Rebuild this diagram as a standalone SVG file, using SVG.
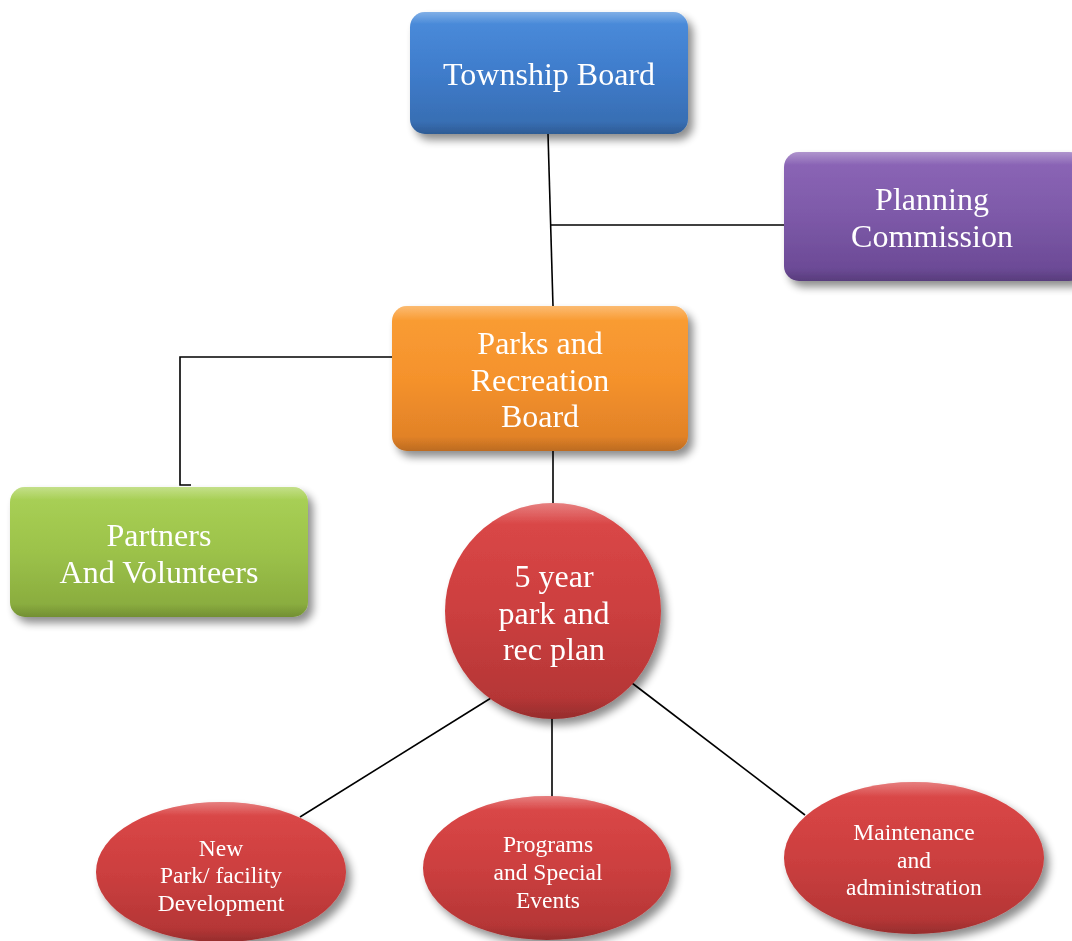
<svg xmlns="http://www.w3.org/2000/svg" width="1072" height="941" viewBox="0 0 1072 941">
<style>
.t{font-family:"Liberation Serif","Times New Roman",serif;fill:#fff;text-anchor:middle}
.big{font-size:32px}
.sm{font-size:23.5px}
.c{stroke:#000;stroke-width:1.6;fill:none}
.n{filter:url(#sh)}
</style>
<defs>
<filter id="sh" x="-20%" y="-20%" width="150%" height="150%">
<feGaussianBlur in="SourceAlpha" stdDeviation="4"/>
<feOffset dx="5" dy="6" result="b"/>
<feComponentTransfer><feFuncA type="linear" slope="0.45"/></feComponentTransfer>
<feMerge><feMergeNode/><feMergeNode in="SourceGraphic"/></feMerge>
</filter>
<linearGradient id="gB" x1="0" y1="0" x2="0" y2="1"><stop offset="0" stop-color="#4b8ddc"/><stop offset="0.5" stop-color="#3f7ccb"/><stop offset="1" stop-color="#366bae"/></linearGradient>
<linearGradient id="gP" x1="0" y1="0" x2="0" y2="1"><stop offset="0" stop-color="#8d67b8"/><stop offset="0.5" stop-color="#7d59a8"/><stop offset="1" stop-color="#684792"/></linearGradient>
<linearGradient id="gO" x1="0" y1="0" x2="0" y2="1"><stop offset="0" stop-color="#fa9e35"/><stop offset="0.5" stop-color="#f5922c"/><stop offset="1" stop-color="#dd7e26"/></linearGradient>
<linearGradient id="gG" x1="0" y1="0" x2="0" y2="1"><stop offset="0" stop-color="#aad257"/><stop offset="0.5" stop-color="#9cc24a"/><stop offset="1" stop-color="#86a83c"/></linearGradient>
<linearGradient id="gR" x1="0" y1="0" x2="0" y2="1"><stop offset="0" stop-color="#dc4848"/><stop offset="0.5" stop-color="#cc3f3f"/><stop offset="1" stop-color="#b03434"/></linearGradient>
<linearGradient id="hl" x1="0" y1="0" x2="0" y2="1"><stop offset="0" stop-color="#fff" stop-opacity="0.3"/><stop offset="0.1" stop-color="#fff" stop-opacity="0"/><stop offset="0.9" stop-color="#000" stop-opacity="0"/><stop offset="1" stop-color="#000" stop-opacity="0.15"/></linearGradient>
</defs>
<g id="connectors">
<line class="c" x1="548" y1="134" x2="553" y2="306"/>
<line class="c" x1="551" y1="225" x2="784" y2="225"/>
<polyline class="c" points="392,357 180,357 180,485 191,485"/>
<line class="c" x1="553" y1="451" x2="553" y2="507"/>
<line class="c" x1="491" y1="698" x2="300" y2="817"/>
<line class="c" x1="552" y1="716" x2="552" y2="798"/>
<line class="c" x1="632" y1="683" x2="805" y2="815"/>
</g>
<g id="township-board" class="n">
<rect x="410" y="12" width="278" height="122" rx="15" fill="url(#gB)"/>
<rect x="410" y="12" width="278" height="122" rx="15" fill="url(#hl)"/>
<text class="t big" x="549" y="85">Township Board</text>
</g>
<g id="planning-commission" class="n">
<rect x="784" y="152" width="300" height="129" rx="15" fill="url(#gP)"/>
<rect x="784" y="152" width="300" height="129" rx="15" fill="url(#hl)"/>
<text class="t big" x="932" y="210">Planning</text>
<text class="t big" x="932" y="247">Commission</text>
</g>
<g id="parks-board" class="n">
<rect x="392" y="306" width="296" height="145" rx="15" fill="url(#gO)"/>
<rect x="392" y="306" width="296" height="145" rx="15" fill="url(#hl)"/>
<text class="t big" x="540" y="354">Parks and</text>
<text class="t big" x="540" y="391">Recreation</text>
<text class="t big" x="540" y="427">Board</text>
</g>
<g id="partners" class="n">
<rect x="10" y="487" width="298" height="130" rx="15" fill="url(#gG)"/>
<rect x="10" y="487" width="298" height="130" rx="15" fill="url(#hl)"/>
<text class="t big" x="159" y="546">Partners</text>
<text class="t big" x="159" y="583">And Volunteers</text>
</g>
<g id="plan" class="n">
<circle cx="553" cy="611" r="108" fill="url(#gR)"/>
<circle cx="553" cy="611" r="108" fill="url(#hl)"/>
<text class="t big" x="554" y="587">5 year</text>
<text class="t big" x="554" y="624">park and</text>
<text class="t big" x="554" y="660">rec plan</text>
</g>
<g id="new-park" class="n">
<ellipse cx="221" cy="872" rx="125" ry="70" fill="url(#gR)"/>
<ellipse cx="221" cy="872" rx="125" ry="70" fill="url(#hl)"/>
<text class="t sm" x="221" y="856">New</text>
<text class="t sm" x="221" y="883">Park/ facility</text>
<text class="t sm" x="221" y="911">Development</text>
</g>
<g id="programs" class="n">
<ellipse cx="547" cy="868" rx="124" ry="72" fill="url(#gR)"/>
<ellipse cx="547" cy="868" rx="124" ry="72" fill="url(#hl)"/>
<text class="t sm" x="548" y="852">Programs</text>
<text class="t sm" x="548" y="880">and Special</text>
<text class="t sm" x="548" y="908">Events</text>
</g>
<g id="maintenance" class="n">
<ellipse cx="914" cy="858" rx="130" ry="76" fill="url(#gR)"/>
<ellipse cx="914" cy="858" rx="130" ry="76" fill="url(#hl)"/>
<text class="t sm" x="914" y="840">Maintenance</text>
<text class="t sm" x="914" y="868">and</text>
<text class="t sm" x="914" y="895">administration</text>
</g>
</svg>
